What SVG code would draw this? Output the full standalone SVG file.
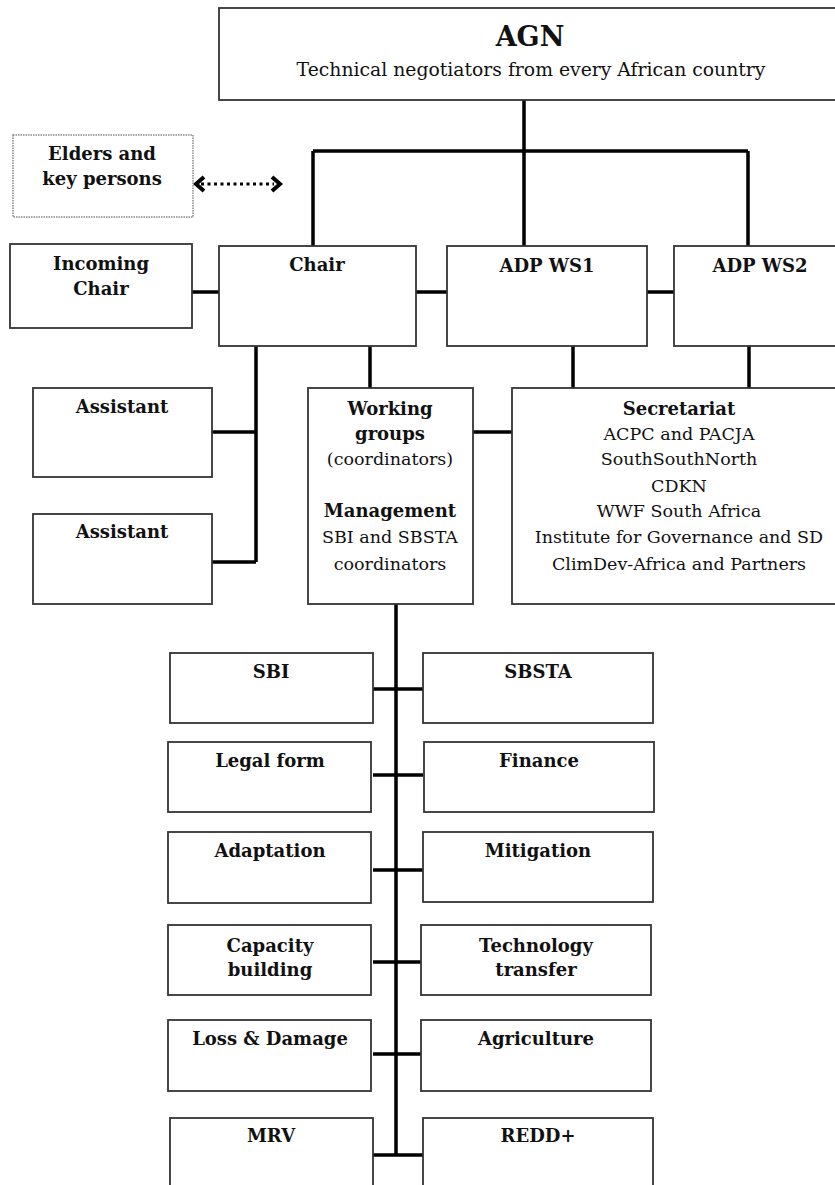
<svg xmlns="http://www.w3.org/2000/svg" width="835" height="1185" viewBox="0 0 835 1185">
<style>
  .box { fill: #fff; stroke: #333; stroke-width: 1.8; }
  .dot { fill: #fff; stroke: #888; stroke-width: 1.5; stroke-dasharray: 1.5 1; }
  .b { font-family: "DejaVu Serif", "Liberation Serif", serif; font-weight: bold; font-size: 18px; fill: #111; text-anchor: middle; }
  .r { font-family: "DejaVu Serif", "Liberation Serif", serif; font-size: 17.5px; fill: #111; text-anchor: middle; }
  .c { stroke: #000; stroke-width: 3.5; fill: none; }
</style>
<rect width="835" height="1185" fill="#fff"/>

<g id="connectors">
  <path class="c" d="M524 100 V151 M313 151 H748 M313 151 V246 M524 151 V246 M748 151 V246"/>
  <path class="c" d="M192 292 H219 M416 292 H447 M647 292 H674"/>
  <path class="c" d="M256 346 V562 M212 432 H256 M212 562 H256"/>
  <path class="c" d="M370 346 V388 M573 346 V388 M749 346 V388 M473 432 H512"/>
  <path class="c" d="M396 604 V1155 M373 689 H423 M373 775 H423 M373 870 H423 M373 962 H423 M373 1054 H423 M373 1155 H423"/>
  <g id="elders-arrow">
    <line x1="201" y1="184" x2="274" y2="184" stroke="#000" stroke-width="3" stroke-dasharray="3 3.5"/>
    <polyline points="204,177 196,184 204,191" fill="none" stroke="#000" stroke-width="4"/>
    <polyline points="272,177 280,184 272,191" fill="none" stroke="#000" stroke-width="4"/>
  </g>
</g>

<g id="agn">
  <rect class="box" x="219" y="8" width="700" height="92"/>
  <text class="b" x="530" y="46" style="font-size:27px">AGN</text>
  <text class="r" x="531" y="76" style="font-size:18.8px">Technical negotiators from every African country</text>
</g>

<g id="elders">
  <rect class="dot" x="13" y="135" width="180" height="82"/>
  <text class="b" x="102" y="160">Elders and</text>
  <text class="b" x="102" y="185">key persons</text>
</g>

<g id="incoming-chair">
  <rect class="box" x="10" y="244" width="182" height="84"/>
  <text class="b" x="101" y="270">Incoming</text>
  <text class="b" x="101" y="295">Chair</text>
</g>

<g id="chair">
  <rect class="box" x="219" y="246" width="197" height="100"/>
  <text class="b" x="317" y="271">Chair</text>
</g>

<g id="adp-ws1">
  <rect class="box" x="447" y="246" width="200" height="100"/>
  <text class="b" x="547" y="272">ADP WS1</text>
</g>

<g id="adp-ws2">
  <rect class="box" x="674" y="246" width="220" height="100"/>
  <text class="b" x="760" y="272">ADP WS2</text>
</g>

<g id="assistant-1">
  <rect class="box" x="33" y="388" width="179" height="89"/>
  <text class="b" x="122" y="413">Assistant</text>
</g>

<g id="assistant-2">
  <rect class="box" x="33" y="514" width="179" height="90"/>
  <text class="b" x="122" y="538">Assistant</text>
</g>

<g id="working-groups">
  <rect class="box" x="308" y="388" width="165" height="216"/>
  <text class="b" x="390" y="415">Working</text>
  <text class="b" x="390" y="440">groups</text>
  <text class="r" x="390" y="465">(coordinators)</text>
  <text class="b" x="390" y="517">Management</text>
  <text class="r" x="390" y="543">SBI and SBSTA</text>
  <text class="r" x="390" y="570">coordinators</text>
</g>

<g id="secretariat">
  <rect class="box" x="512" y="388" width="400" height="216"/>
  <text class="b" x="679" y="415">Secretariat</text>
  <text class="r" x="679" y="440">ACPC and PACJA</text>
  <text class="r" x="679" y="465">SouthSouthNorth</text>
  <text class="r" x="679" y="492">CDKN</text>
  <text class="r" x="679" y="517">WWF South Africa</text>
  <text class="r" x="679" y="543">Institute for Governance and SD</text>
  <text class="r" x="679" y="570">ClimDev-Africa and Partners</text>
</g>

<g id="sbi"><rect class="box" x="170" y="653" width="203" height="70"/><text class="b" x="271" y="678">SBI</text></g>
<g id="sbsta"><rect class="box" x="423" y="653" width="230" height="70"/><text class="b" x="538" y="678">SBSTA</text></g>
<g id="legal-form"><rect class="box" x="168" y="742" width="203" height="70"/><text class="b" x="270" y="767">Legal form</text></g>
<g id="finance"><rect class="box" x="424" y="742" width="230" height="70"/><text class="b" x="539" y="767">Finance</text></g>
<g id="adaptation"><rect class="box" x="168" y="832" width="203" height="71"/><text class="b" x="270" y="857">Adaptation</text></g>
<g id="mitigation"><rect class="box" x="423" y="832" width="230" height="70"/><text class="b" x="538" y="857">Mitigation</text></g>
<g id="capacity-building"><rect class="box" x="168" y="925" width="203" height="70"/><text class="b" x="270" y="952">Capacity</text><text class="b" x="270" y="976">building</text></g>
<g id="technology-transfer"><rect class="box" x="421" y="925" width="230" height="70"/><text class="b" x="536" y="952">Technology</text><text class="b" x="536" y="976">transfer</text></g>
<g id="loss-damage"><rect class="box" x="168" y="1020" width="203" height="71"/><text class="b" x="270" y="1045">Loss &amp; Damage</text></g>
<g id="agriculture"><rect class="box" x="421" y="1020" width="230" height="71"/><text class="b" x="536" y="1045">Agriculture</text></g>
<g id="mrv"><rect class="box" x="170" y="1118" width="203" height="90"/><text class="b" x="271" y="1142">MRV</text></g>
<g id="redd"><rect class="box" x="423" y="1118" width="230" height="90"/><text class="b" x="538" y="1142">REDD+</text></g>
</svg>
